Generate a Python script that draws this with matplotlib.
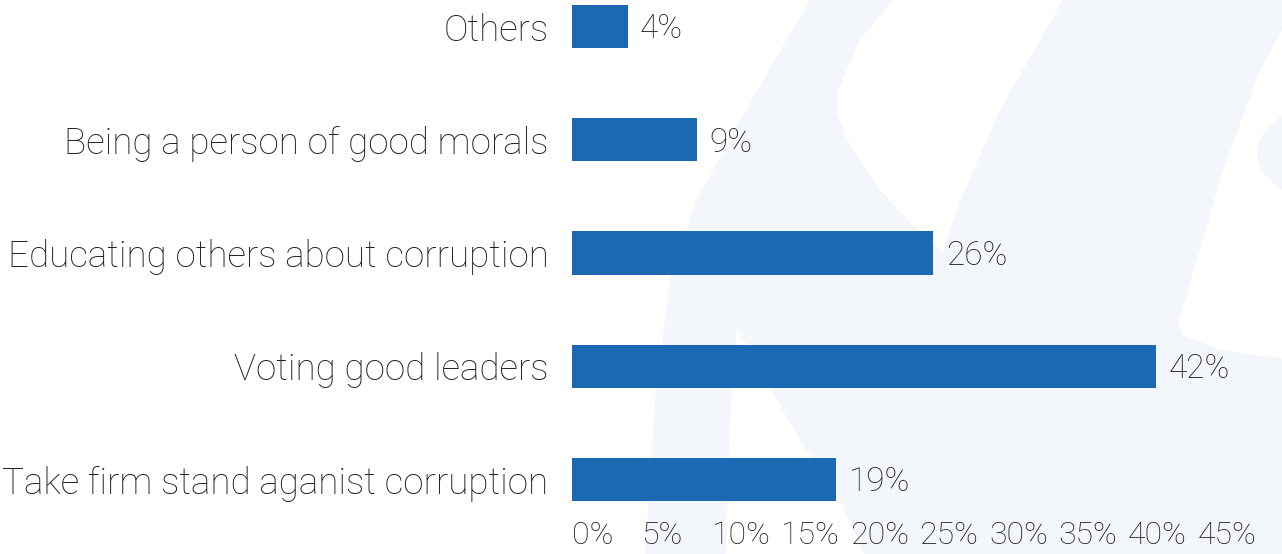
import numpy as np
import matplotlib
matplotlib.use("Agg")
import matplotlib.pyplot as plt
from matplotlib.patches import Polygon, Circle

categories = ["Take firm stand aganist corruption", "Voting good leaders",
              "Educating others about corruption", "Being a person of good morals",
              "Others"]
values = [19, 42, 26, 9, 4]
xticks = [0, 5, 10, 15, 20, 25, 30, 35, 40, 45]

W, H = 1282, 554
bar_color = "#1a69b2"
text_color = "#231f20"
light = "#f3f6fa"

plt.rcParams["font.family"] = ["Roboto", "DejaVu Sans"]
plt.rcParams["font.weight"] = "light"

fig = plt.figure(figsize=(W / 100, H / 100), dpi=100)
fig.patch.set_facecolor("white")


def px(pts):
    # pixel coords (from top-left) -> figure fraction
    return [(x / W, 1 - y / H) for x, y in pts]


# faint background watermark
band = [(810, 0), (740, 120), (697, 200), (683, 240), (670, 280), (655, 400),
        (645, 554), (1282, 554), (1282, 0)]
hole_a = [(893, 0), (860, 40), (838, 90), (837, 115), (850, 145), (880, 190),
          (917, 230), (942, 252), (948, 235), (965, 190), (1000, 110), (1063, 0)]
hole_b = [(726, 554), (730, 420), (737, 327), (760, 370), (800, 440), (840, 500),
          (864, 554)]
hole_c = [(1282, 30), (1260, 70), (1245, 110), (1220, 180), (1200, 250),
          (1185, 300), (1178, 320), (1182, 335), (1215, 348), (1250, 355),
          (1282, 358)]
fig.add_artist(Polygon(px(band), closed=True, transform=fig.transFigure,
                       facecolor=light, edgecolor="none", zorder=0))
for hole in (hole_a, hole_b, hole_c):
    fig.add_artist(Polygon(px(hole), closed=True, transform=fig.transFigure,
                           facecolor="white", edgecolor="none", zorder=0))
circ = Circle((1417 / W, 1 - 153 / H), 160 / W, transform=fig.transFigure,
              facecolor=light, edgecolor="none", zorder=0)
fig.add_artist(circ)

# axes placed so that 0..45 spans 572..1197 px
ax = fig.add_axes([572 / W, 44 / H, (1197.5 - 572) / W, 510 / H])
ax.patch.set_alpha(0)
ax.set_zorder(1)

y = np.arange(len(categories))
ax.barh(y, values, height=0.38, color=bar_color)
ax.set_xlim(0, 45)
ax.set_ylim(-0.269, 4.234)

ax.set_yticks(y)
ax.set_yticklabels(categories, fontsize=26.5, color=text_color)
ax.set_xticks(xticks)
ax.set_xticklabels([f"{t}%" for t in xticks], fontsize=23, color=text_color,
                   ha="left")
ax.tick_params(axis="y", length=0, pad=17)
ax.tick_params(axis="x", length=0, pad=8)
for s in ax.spines.values():
    s.set_visible(False)

for yi, v in zip(y, values):
    ax.annotate(f"{v}%", xy=(v, yi), xytext=(9, -2), textcoords="offset points",
                ha="left", va="center", fontsize=24, color=text_color)

fig.savefig("out.png", dpi=100)
